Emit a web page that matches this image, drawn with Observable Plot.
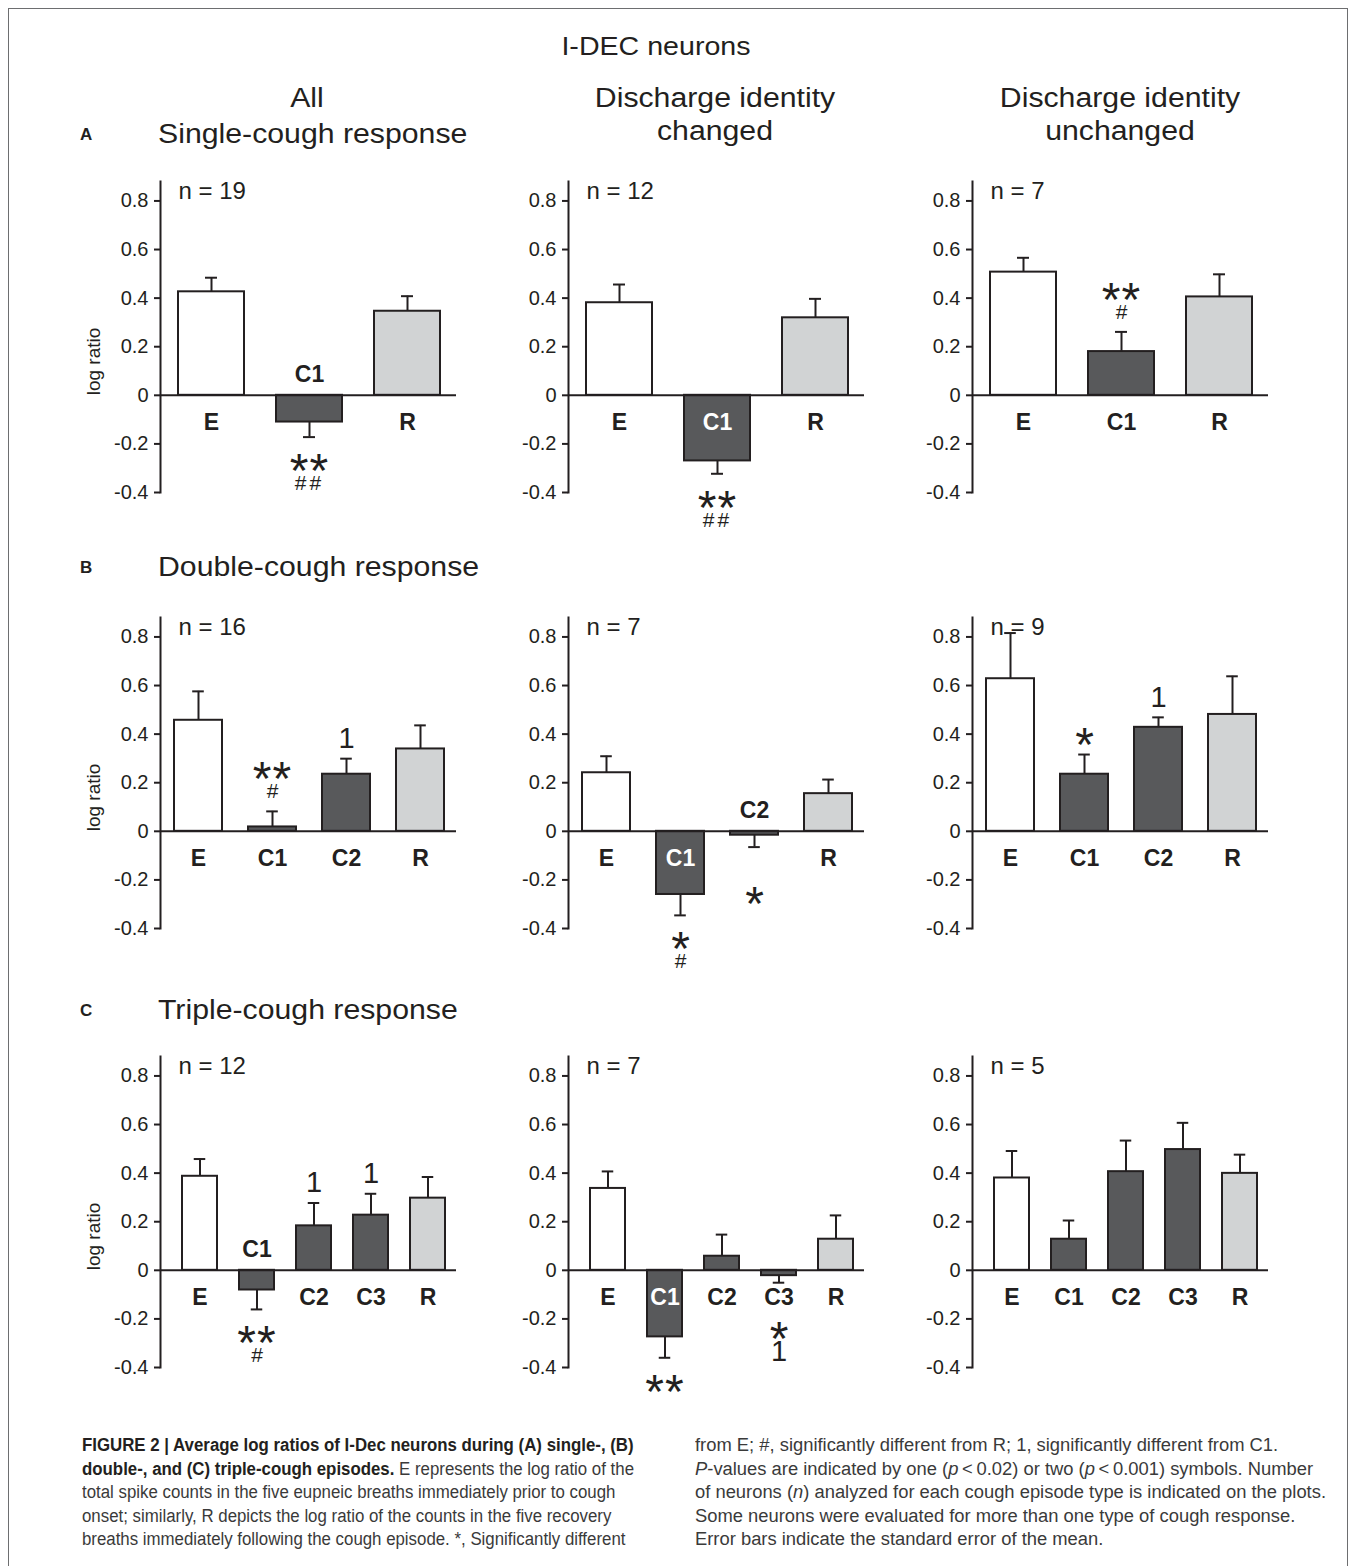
<!DOCTYPE html>
<html><head><meta charset="utf-8">
<script src="https://cdn.jsdelivr.net/npm/d3@7"></script>
<script src="https://cdn.jsdelivr.net/npm/@observablehq/plot@0.6"></script>
<style>
html,body{margin:0;padding:0;overflow:hidden;background:#fff;}
#page{position:relative;width:1356px;height:1566px;font-family:"Liberation Sans",Arial,Helvetica,sans-serif;color:#231f20;}
.t{position:absolute;white-space:nowrap;}
.chart{position:absolute;}
.chart svg{overflow:visible;}
#frame{position:absolute;left:8px;top:8px;width:1340px;height:1600px;border:1.5px solid #6d6e70;box-sizing:border-box;}
.cap{position:absolute;font-family:"Liberation Sans",Arial,sans-serif;font-size:18px;line-height:23.6px;color:#3a3a3a;transform-origin:left top;}
.cap div{white-space:pre;}
.cap span.m{display:inline-block;}
.cap b{color:#231f20;}
</style></head><body><div id="page"><div id="frame"></div></div>
<script>
// ---------------- data ----------------
const catsSingle = ["E", "C1", "R"];
const catsDouble = ["E", "C1", "C2", "R"];
const catsTriple = ["E", "C1", "C2", "C3", "R"];

const nSingle = [19, 12, 7];
const nDouble = [16, 7, 9];
const nTriple = [12, 7, 5];

// mean log ratio and standard error
const meanSingleAll = [0.426, -0.110, 0.346];
const semSingleAll = [0.058, 0.062, 0.062];
const meanSingleChanged = [0.381, -0.270, 0.319];
const semSingleChanged = [0.075, 0.053, 0.078];
const meanSingleUnchanged = [0.507, 0.180, 0.405];
const semSingleUnchanged = [0.059, 0.081, 0.093];

const meanDoubleAll = [0.457, 0.018, 0.235, 0.339];
const semDoubleAll = [0.119, 0.064, 0.064, 0.097];
const meanDoubleChanged = [0.241, -0.260, -0.016, 0.155];
const semDoubleChanged = [0.068, 0.086, 0.049, 0.058];
const meanDoubleUnchanged = [0.628, 0.235, 0.428, 0.481];
const semDoubleUnchanged = [0.188, 0.081, 0.041, 0.157];

const meanTripleAll = [0.387, -0.081, 0.183, 0.227, 0.297];
const semTripleAll = [0.071, 0.080, 0.094, 0.088, 0.087];
const meanTripleChanged = [0.337, -0.274, 0.058, -0.022, 0.128];
const semTripleChanged = [0.070, 0.086, 0.089, 0.029, 0.098];
const meanTripleUnchanged = [0.380, 0.128, 0.406, 0.497, 0.399];
const semTripleUnchanged = [0.111, 0.077, 0.128, 0.110, 0.077];

// significance symbols, listed outward from the error bar ("" = skipped line)
const sigSingleAll = {C1: ["**", "##"]};
const sigSingleChanged = {C1: ["**", "##"]};
const sigSingleUnchanged = {C1: ["#", "**"]};
const sigDoubleAll = {C1: ["#", "**"], C2: ["1"]};
const sigDoubleChanged = {C1: ["*", "#"], C2: ["", "*"]};
const sigDoubleUnchanged = {C1: ["*"], C2: ["1"]};
const sigTripleAll = {C1: ["**", "#"], C2: ["1"], C3: ["1"]};
const sigTripleChanged = {C1: ["**"], C3: ["", "*", "1"]};
const sigTripleUnchanged = {};

// category label placement
const lblSingleAll = ["below", "above", "below"];
const lblSingleChanged = ["below", "inside", "below"];
const lblSingleUnchanged = ["below", "below", "below"];
const lblDoubleAll = ["below", "below", "below", "below"];
const lblDoubleChanged = ["below", "inside", "above", "below"];
const lblDoubleUnchanged = ["below", "below", "below", "below"];
const lblTripleAll = ["below", "above", "below", "below", "below"];
const lblTripleChanged = ["below", "inside", "below", "below", "below"];
const lblTripleUnchanged = ["below", "below", "below", "below", "below"];

const yTicks = [-0.4, -0.2, 0, 0.2, 0.4, 0.6, 0.8];

// ---------------- layout / style ----------------
const page = document.getElementById("page");
const INK = "#231f20";
const Y_MIN = -0.4, Y_MAX = 0.88, PLOT_H = 311, PPU = PLOT_H / (Y_MAX - Y_MIN);
const ML = 80, MR = 10, MT = 10, MB = 110, PW = 296;
const barFill = {E: "#ffffff", R: "#d1d3d4"};
const xLayout = {
  3: {pi: 0.328, po: 0.17, align: 0.53},
  4: {pi: 0.346, po: 0.173, align: 0.53},
  5: {pi: 0.386, po: 0.253, align: 0.68}
};
const colX = [160, 568, 972];
const rowTop = [180.6, 617, 1055.5];
const STAR = 48, HASH = 21, ONE = 29;

function addText(str, x, yc, size, opts = {}) {
  const d = document.createElement("div");
  d.className = "t";
  d.textContent = str;
  d.style.fontSize = size + "px";
  d.style.lineHeight = size + "px";
  d.style.left = x + "px";
  d.style.top = (yc - 0.49 * size) + "px";
  if (opts.bold) d.style.fontWeight = "bold";
  const sx = opts.sx || 1;
  if (opts.anchor === "middle") d.style.transform = `translateX(-50%) scaleX(${sx})`;
  else { d.style.transformOrigin = "left center"; d.style.transform = `scaleX(${sx})`; }
  page.appendChild(d);
}

function panel(cats, means, sems, n, labelPos, sig, yLabel) {
  const L = xLayout[cats.length];
  const step = PW / (cats.length - L.pi + 2 * L.po);
  const bw = step * (1 - L.pi);
  const capInset = (bw - 12) / 2;
  const rows = cats.map((c, i) => ({
    cat: c, mean: means[i],
    tip: means[i] + (means[i] >= 0 ? 1 : -1) * sems[i],
    fill: barFill[c] || "#58595b",
    labelY: labelPos[i] === "above" ? 21 / PPU : -27 / PPU,
    labelFill: labelPos[i] === "inside" ? "#ffffff" : INK
  }));
  const sigRows = [];
  rows.forEach(r => {
    const lines = sig[r.cat] || [];
    const dir = r.mean >= 0 ? -1 : 1;
    lines.forEach((t, i) => {
      if (!t) return;
      let px = dir * ((dir < 0 ? 20 : 23) + 23 * i);
      const kind = t[0] === "*" ? "star" : t[0] === "#" ? "hash" : "one";
      if (kind === "star") px += 0.237 * STAR;
      sigRows.push({cat: r.cat, y: r.tip - px / PPU, text: t, kind});
    });
  });
  const marks = [
    Plot.barY(rows, {x: "cat", y1: 0, y2: "mean", fill: "fill", stroke: INK, strokeWidth: 2}),
    Plot.ruleX(rows, {x: "cat", y1: "mean", y2: "tip", stroke: INK, strokeWidth: 2}),
    Plot.tickY(rows, {x: "cat", y: "tip", stroke: INK, strokeWidth: 2, insetLeft: capInset, insetRight: capInset}),
    Plot.ruleY([0], {stroke: INK, strokeWidth: 2}),
    Plot.frame({anchor: "left", stroke: INK, strokeWidth: 2}),
    Plot.axisY({ticks: yTicks, tickFormat: d => d === 0 ? "0" : d.toFixed(1), tickSize: 6, tickPadding: 6,
      fontSize: 20, strokeWidth: 2, stroke: INK, fill: INK, label: null}),
    Plot.text(rows, {x: "cat", y: "labelY", text: "cat", fill: "labelFill", fontWeight: "bold", fontSize: 23}),
    Plot.text([`n = ${n}`], {text: d => d, frameAnchor: "top-left", dx: 18, lineAnchor: "top", fontSize: 24, fill: INK}),
    Plot.text(sigRows.filter(d => d.kind === "star"), {x: "cat", y: "y", text: "text", fontSize: STAR, fill: INK}),
    Plot.text(sigRows.filter(d => d.kind === "hash"), {x: "cat", y: "y", text: "text", fontSize: HASH, fill: INK}),
    Plot.text(sigRows.filter(d => d.kind === "one"), {x: "cat", y: "y", text: "text", fontSize: ONE, fill: INK})
  ];
  if (yLabel) marks.push(Plot.text(["log ratio"], {text: d => d, y: [0], frameAnchor: "left", rotate: -90, dx: -67, fontSize: 19, fill: INK}));
  const chart = Plot.plot({
    width: ML + PW + MR, height: MT + PLOT_H + MB,
    marginLeft: ML, marginRight: MR, marginTop: MT, marginBottom: MB,
    style: {fontFamily: '"Liberation Sans", Arial, sans-serif', color: INK, background: "transparent", overflow: "visible"},
    x: {type: "band", domain: cats, paddingInner: L.pi, paddingOuter: L.po, align: L.align, axis: null},
    y: {domain: [Y_MIN, Y_MAX], axis: null},
    color: {type: "identity"},
    marks
  });
  d3.select(chart).selectAll("text").filter(function () { return /^[*#]{2}$/.test(this.textContent); })
    .attr("letter-spacing", function () { return this.textContent[0] === "*" ? "1px" : "3px"; });
  return chart;
}

const panels = [
  [catsSingle, meanSingleAll, semSingleAll, nSingle[0], lblSingleAll, sigSingleAll],
  [catsSingle, meanSingleChanged, semSingleChanged, nSingle[1], lblSingleChanged, sigSingleChanged],
  [catsSingle, meanSingleUnchanged, semSingleUnchanged, nSingle[2], lblSingleUnchanged, sigSingleUnchanged],
  [catsDouble, meanDoubleAll, semDoubleAll, nDouble[0], lblDoubleAll, sigDoubleAll],
  [catsDouble, meanDoubleChanged, semDoubleChanged, nDouble[1], lblDoubleChanged, sigDoubleChanged],
  [catsDouble, meanDoubleUnchanged, semDoubleUnchanged, nDouble[2], lblDoubleUnchanged, sigDoubleUnchanged],
  [catsTriple, meanTripleAll, semTripleAll, nTriple[0], lblTripleAll, sigTripleAll],
  [catsTriple, meanTripleChanged, semTripleChanged, nTriple[1], lblTripleChanged, sigTripleChanged],
  [catsTriple, meanTripleUnchanged, semTripleUnchanged, nTriple[2], lblTripleUnchanged, sigTripleUnchanged]
];
panels.forEach((p, i) => {
  const r = Math.floor(i / 3), c = i % 3;
  const div = document.createElement("div");
  div.className = "chart";
  div.style.left = (colX[c] - ML) + "px";
  div.style.top = (rowTop[r] - MT) + "px";
  div.appendChild(panel(...p, c === 0));
  page.appendChild(div);
});

// ---------------- titles ----------------
const TS = 27, SX = 1.12;
addText("I-DEC neurons", 656, 46, 26, {anchor: "middle", sx: 1.1});
addText("All", 307, 98, TS, {anchor: "middle", sx: SX});
addText("Single-cough response", 158, 134, TS, {sx: SX});
addText("Discharge identity", 715, 98, TS, {anchor: "middle", sx: SX});
addText("changed", 715, 131, TS, {anchor: "middle", sx: SX});
addText("Discharge identity", 1120, 98, TS, {anchor: "middle", sx: SX});
addText("unchanged", 1120, 131, TS, {anchor: "middle", sx: SX});
addText("A", 80, 134, 17, {bold: true});
addText("B", 80, 567, 17, {bold: true});
addText("Double-cough response", 158, 567, TS, {sx: SX});
addText("C", 80, 1010, 17, {bold: true});
addText("Triple-cough response", 158, 1010, TS, {sx: SX});

// ---------------- caption ----------------
function caption(x, lines, refLine, targetW) {
  const col = document.createElement("div");
  col.className = "cap";
  col.style.left = x + "px"; col.style.top = "1434px";
  const spans = lines.map(html => {
    const d = document.createElement("div");
    const s = document.createElement("span");
    s.className = "m";
    s.innerHTML = html;
    d.appendChild(s);
    col.appendChild(d);
    return s;
  });
  page.appendChild(col);
  const w = spans[refLine].getBoundingClientRect().width;
  col.style.transform = `scaleX(${targetW / w})`;
}
caption(82, [
  "<b>FIGURE 2 | Average log ratios of I-Dec neurons during (A) single-, (B)</b>",
  "<b>double-, and (C) triple-cough episodes.</b> E represents the log ratio of the",
  "total spike counts in the five eupneic breaths immediately prior to cough",
  "onset; similarly, R depicts the log ratio of the counts in the five recovery",
  "breaths immediately following the cough episode. *, Significantly different"
], 1, 552);
caption(695, [
  "from E; #, significantly different from R; 1, significantly different from C1.",
  "<i>P</i>-values are indicated by one (<i>p</i>\u2009&lt;\u20090.02) or two (<i>p</i>\u2009&lt;\u20090.001) symbols. Number",
  "of neurons (<i>n</i>) analyzed for each cough episode type is indicated on the plots.",
  "Some neurons were evaluated for more than one type of cough response.",
  "Error bars indicate the standard error of the mean."
], 2, 631);
</script></body></html>
